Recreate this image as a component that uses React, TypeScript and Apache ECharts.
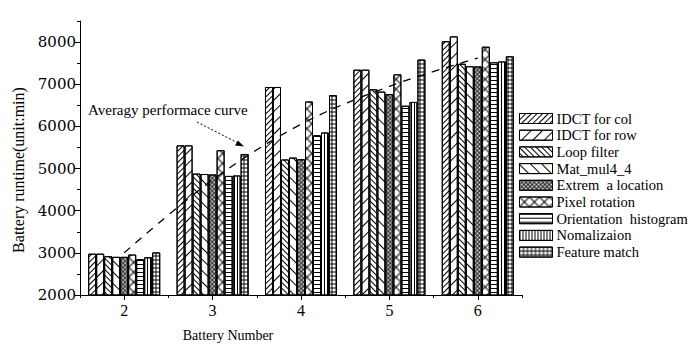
import React, { useEffect, useRef } from "react";
import * as echarts from "echarts";

const categories = ["2", "3", "4", "5", "6"];
const seriesNames = [
  "IDCT for col",
  "IDCT for row",
  "Loop filter",
  "Mat_mul4_4",
  "Extrem  a location",
  "Pixel rotation",
  "Orientation  histogram",
  "Nomalizaion",
  "Feature match",
];
const idctCol = [2980, 5550, 6935, 7345, 8020];
const idctRow = [2980, 5550, 6935, 7345, 8135];
const loopFilter = [2920, 4880, 5215, 6880, 7485];
const matMul = [2905, 4870, 5260, 6825, 7427];
const extremLoc = [2905, 4860, 5220, 6765, 7422];
const pixelRot = [2960, 5435, 6590, 7235, 7890];
const orientHist = [2850, 4825, 5790, 6490, 7520];
const nomalization = [2895, 4835, 5855, 6580, 7540];
const featureMatch = [3010, 5345, 6740, 7585, 7662];
const avgCurve = [3000, 4730, 6050, 6950, 7620];
const yTickValues = [2000, 3000, 4000, 5000, 6000, 7000, 8000];

const seriesValues = [
  idctCol,
  idctRow,
  loopFilter,
  matMul,
  extremLoc,
  pixelRot,
  orientHist,
  nomalization,
  featureMatch,
];

// square frame symbol (outer clockwise, inner counter-clockwise => hole)
function frame(t: number) {
  const a = t.toFixed(2);
  const b = (10 - t).toFixed(2);
  return `path://M0,0L10,0L10,10L0,10Z M${a},${a}L${a},${b}L${b},${b}L${b},${a}Z`;
}

const Q = Math.PI / 4;
const decals: any[] = [
  { color: "#000", dashArrayX: [1, 0], dashArrayY: [1, 2.2], rotation: -Q, symbolKeepAspect: false },
  { color: "#000", dashArrayX: [1, 0], dashArrayY: [1, 7], rotation: -Q, symbolKeepAspect: false },
  { color: "#000", dashArrayX: [1, 0], dashArrayY: [1, 2.2], rotation: Q, symbolKeepAspect: false },
  { color: "#000", dashArrayX: [1, 0], dashArrayY: [1, 7], rotation: Q, symbolKeepAspect: false },
  { color: "#000", symbol: frame(1.7), symbolSize: 1, dashArrayX: [3, 0], dashArrayY: [3, 0], rotation: Q, symbolKeepAspect: false },
  { color: "#000", symbol: frame(0.75), symbolSize: 1, dashArrayX: [7, 0], dashArrayY: [7, 0], rotation: Q, symbolKeepAspect: false },
  { color: "#000", dashArrayX: [1, 0], dashArrayY: [1, 2.5], rotation: 0, symbolKeepAspect: false },
  { color: "#000", dashArrayX: [1, 2], dashArrayY: [1, 0], rotation: 0, symbolKeepAspect: false },
  { color: "#000", symbol: frame(1.2), symbolSize: 1, dashArrayX: [4, 0], dashArrayY: [4, 0], rotation: 0, symbolKeepAspect: false },
];

const FONT = "Liberation Serif";

export default function App() {
  const ref = useRef<HTMLDivElement>(null);
  useEffect(() => {
    document.body.style.margin = "0";
    const chart = echarts.init(ref.current!, undefined, { renderer: "svg" });
    const barSeries = seriesNames.map((name, i) => ({
      name,
      type: "bar",
      data: seriesValues[i],
      barGap: "0%",
      barCategoryGap: "18.5%",
      itemStyle: {
        color: "#fff",
        borderColor: "#000",
        borderWidth: 1,
        decal: decals[i],
      },
      emphasis: { disabled: true },
    }));
    chart.setOption({
      animation: false,
      aria: { enabled: false },
      grid: { left: 80, right: 168, top: 21, bottom: 52, containLabel: false },
      legend: {
        data: seriesNames,
        orient: "vertical",
        left: 519,
        top: 111,
        padding: 0,
        itemWidth: 33,
        itemHeight: 10,
        itemGap: 1.7,
        icon: "rect",
        itemStyle: { borderColor: "#000", borderWidth: 1 },
        textStyle: { fontFamily: FONT, fontSize: 14.5, lineHeight: 15, color: "#000", padding: [0, 0, 0, -1] },
      },
      xAxis: [
        {
          type: "category",
          data: categories,
          boundaryGap: true,
          name: "Battery Number",
          nameLocation: "middle",
          nameGap: 33,
          nameTextStyle: { fontFamily: FONT, fontSize: 14, color: "#000", padding: [0, 146, 0, 0] },
          axisLine: { lineStyle: { color: "#000", width: 1 } },
          axisTick: { show: true, length: 3, lineStyle: { color: "#000" } },
          axisLabel: { fontFamily: FONT, fontSize: 16, color: "#000", margin: 7 },
          splitLine: { show: false },
        },
        {
          type: "category",
          data: categories,
          position: "bottom",
          axisLine: { show: false },
          axisTick: { show: true, alignWithLabel: true, length: 5, lineStyle: { color: "#000" } },
          axisLabel: { show: false },
          splitLine: { show: false },
        },
      ],
      yAxis: [
        {
          type: "value",
          min: 2000,
          max: 8500,
          interval: 500,
          axisLine: { show: true, lineStyle: { color: "#000", width: 1 } },
          axisTick: { show: true, length: 3, lineStyle: { color: "#000" } },
          axisLabel: { show: false },
          splitLine: { show: false },
          name: "Battery runtime(unit:min)",
          nameLocation: "middle",
          nameGap: 54,
          nameRotate: 90,
          nameTextStyle: { fontFamily: FONT, fontSize: 16, color: "#000", padding: [0, 0, 0, -24] },
        },
        {
          type: "value",
          min: 2000,
          max: 8500,
          interval: 1000,
          position: "left",
          axisLine: { show: false },
          axisTick: { show: true, length: 5, lineStyle: { color: "#000" } },
          axisLabel: {
            fontFamily: "DejaVu Serif",
            fontSize: 15,
            color: "#000",
            margin: 4,
            showMaxLabel: false,
            formatter: (v: number) => (yTickValues.includes(v) ? String(v) : ""),
          },
          splitLine: { show: false },
        },
      ],
      series: [
        ...barSeries,
        {
          name: "Average",
          type: "line",
          data: avgCurve,
          smooth: 0.35,
          symbol: "none",
          z: 5,
          silent: true,
          lineStyle: { color: "#000", width: 1.3, type: [8, 7] },
        },
      ],
      graphic: [
        {
          type: "text",
          left: 88,
          top: 102,
          style: { text: "Averagy performace curve", font: `15px "${FONT}"`, fill: "#000" },
        },
        {
          type: "line",
          shape: { x1: 197, y1: 122, x2: 238, y2: 143 },
          style: { stroke: "#000", lineWidth: 1, lineDash: [2, 2] },
        },
        {
          type: "polygon",
          shape: { points: [[244, 146.5], [235, 145.5], [238, 140.5]] },
          style: { fill: "#000" },
        },
      ],
    });
    return () => chart.dispose();
  }, []);
  return <div ref={ref} style={{ width: 690, height: 347 }} />;
}
